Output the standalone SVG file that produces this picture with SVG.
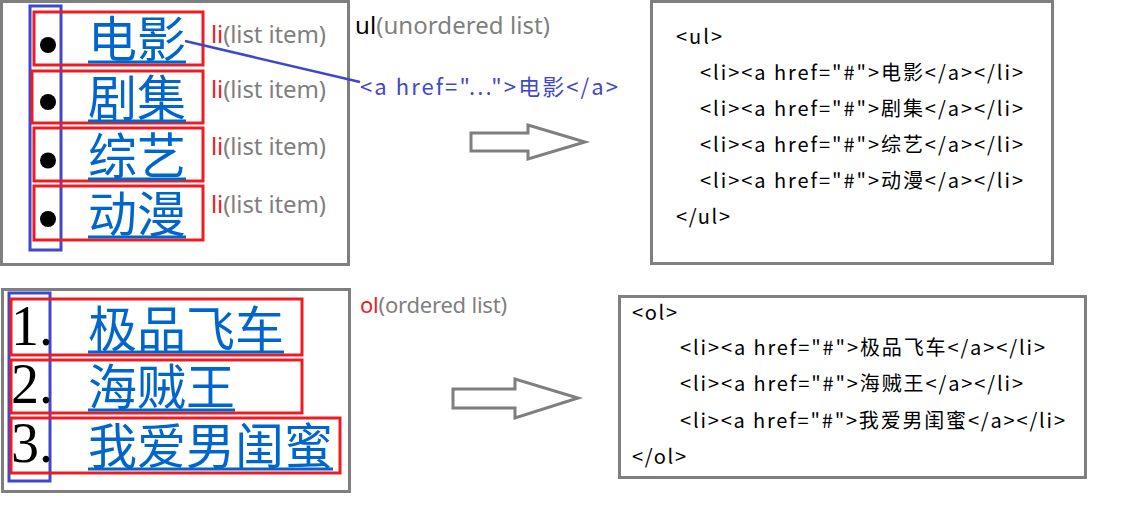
<svg xmlns="http://www.w3.org/2000/svg" width="1127" height="508" viewBox="0 0 1127 508">
<style>
.frame{fill:none;stroke:#7f7f7f;stroke-width:3}
.li{fill:none;stroke:#ed1c24;stroke-width:3}
.list{fill:none;stroke:#3f48cc;stroke-width:3}
.link{font-family:"Noto Sans CJK SC","Noto Sans",sans-serif;font-size:49px;fill:#0066cc}
.ul{stroke:#0066cc;stroke-width:3}
.lbl{font-family:"Noto Sans","Noto Sans CJK SC",sans-serif;font-size:24px;fill:#7f7f7f}
.red{fill:#ed1c24}
.blk{fill:#000}
.code{font-family:"Noto Sans CJK SC","Noto Sans",sans-serif;font-size:20px;fill:#000}
.num{font-family:"Liberation Serif",serif;font-size:56px;fill:#000}
.arrow{fill:#fff;stroke:#7f7f7f;stroke-width:3}
</style>
<rect width="1127" height="508" fill="#fff"/>

<g id="ul-render">
<rect class="frame" x="1.5" y="1.5" width="347" height="263"/>
<rect class="list" x="30" y="6" width="31" height="244"/>
<g id="li1"><rect class="li" x="34" y="12" width="169" height="53"/><circle cx="48" cy="45" r="8"/><text class="link" x="88" y="57">电影</text><line class="ul" x1="88" y1="62" x2="186" y2="62"/></g>
<g id="li2"><rect class="li" x="32" y="71" width="171" height="52"/><circle cx="48" cy="102" r="8"/><text class="link" x="88" y="116">剧集</text><line class="ul" x1="88" y1="121" x2="186" y2="121"/></g>
<g id="li3"><rect class="li" x="34" y="128" width="169" height="53"/><circle cx="48" cy="160.5" r="8"/><text class="link" x="88" y="174">综艺</text><line class="ul" x1="88" y1="179" x2="186" y2="179"/></g>
<g id="li4"><rect class="li" x="34" y="186" width="169" height="54"/><circle cx="48" cy="219" r="8"/><text class="link" x="88" y="232">动漫</text><line class="ul" x1="88" y1="237" x2="186" y2="237"/></g>
</g>

<g id="li-labels">
<text class="lbl" x="211" y="43" textLength="115"><tspan class="red">li</tspan>(list item)</text>
<text class="lbl" x="211" y="98" textLength="115"><tspan class="red">li</tspan>(list item)</text>
<text class="lbl" x="211" y="155" textLength="115"><tspan class="red">li</tspan>(list item)</text>
<text class="lbl" x="211" y="213" textLength="115"><tspan class="red">li</tspan>(list item)</text>
</g>

<g id="ul-label"><text class="lbl" x="355" y="34" textLength="195"><tspan class="blk">ul</tspan>(unordered list)</text></g>

<g id="a-label"><text x="360" y="95" textLength="258" style="font-family:'Noto Sans CJK SC','Noto Sans',sans-serif;font-size:22px;fill:#3f48cc">&lt;a href="..."&gt;电影&lt;/a&gt;</text></g>

<g id="connectors">
<line x1="185" y1="41" x2="360" y2="82" stroke="#3f48cc" stroke-width="2.5"/>
<polygon class="arrow" points="471,133 528,133 528,125 585,142 528,159 528,151 471,151"/>
<polygon class="arrow" points="453,389 515,389 515,379 578,398 515,418 515,408 453,408"/>
</g>

<g id="ul-code">
<rect class="frame" x="651.5" y="1.5" width="401" height="262"/>
<text class="code" x="676" y="44" textLength="46">&lt;ul&gt;</text>
<text class="code" x="700" y="80" textLength="323">&lt;li&gt;&lt;a href="#"&gt;电影&lt;/a&gt;&lt;/li&gt;</text>
<text class="code" x="700" y="116" textLength="323">&lt;li&gt;&lt;a href="#"&gt;剧集&lt;/a&gt;&lt;/li&gt;</text>
<text class="code" x="700" y="152" textLength="323">&lt;li&gt;&lt;a href="#"&gt;综艺&lt;/a&gt;&lt;/li&gt;</text>
<text class="code" x="700" y="188" textLength="323">&lt;li&gt;&lt;a href="#"&gt;动漫&lt;/a&gt;&lt;/li&gt;</text>
<text class="code" x="676" y="224" textLength="54">&lt;/ul&gt;</text>
</g>

<g id="ol-render">
<rect class="frame" x="2.5" y="289.5" width="347" height="202"/>
<rect class="list" x="9" y="293" width="41" height="188"/>
<g id="oli1"><rect class="li" x="11" y="299" width="291" height="56"/><text class="num" x="11" y="345">1.</text><text class="link" x="88" y="347">极品飞车</text><line class="ul" x1="88" y1="352" x2="284" y2="352"/></g>
<g id="oli2"><rect class="li" x="11" y="360" width="291" height="53"/><text class="num" x="11" y="403">2.</text><text class="link" x="88" y="405">海贼王</text><line class="ul" x1="88" y1="410" x2="235" y2="410"/></g>
<g id="oli3"><rect class="li" x="11" y="418" width="329" height="55"/><text class="num" x="11" y="462">3.</text><text class="link" x="88" y="464">我爱男闺蜜</text><line class="ul" x1="88" y1="469" x2="333" y2="469"/></g>
</g>

<g id="ol-label"><text class="lbl" x="360" y="313" textLength="147" style="font-size:22px"><tspan class="red">ol</tspan>(ordered list)</text></g>

<g id="ol-code">
<rect class="frame" x="619.5" y="296.5" width="466" height="181"/>
<text class="code" x="632" y="320" textLength="45">&lt;ol&gt;</text>
<text class="code" x="680" y="355" textLength="365">&lt;li&gt;&lt;a href="#"&gt;极品飞车&lt;/a&gt;&lt;/li&gt;</text>
<text class="code" x="680" y="391" textLength="343">&lt;li&gt;&lt;a href="#"&gt;海贼王&lt;/a&gt;&lt;/li&gt;</text>
<text class="code" x="680" y="428" textLength="385">&lt;li&gt;&lt;a href="#"&gt;我爱男闺蜜&lt;/a&gt;&lt;/li&gt;</text>
<text class="code" x="632" y="464" textLength="54">&lt;/ol&gt;</text>
</g>
</svg>
